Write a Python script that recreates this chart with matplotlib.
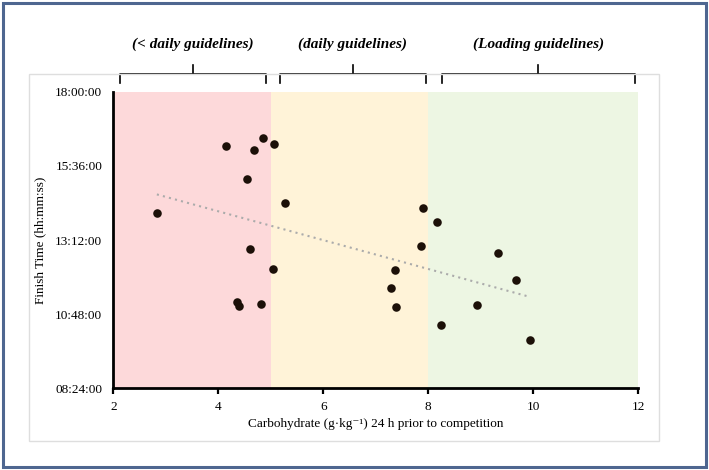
import numpy as np
import matplotlib.pyplot as plt
import matplotlib.transforms as mtransforms
from matplotlib.patches import Rectangle
from matplotlib.ticker import FuncFormatter

plt.rcParams['font.family'] = ['Liberation Serif', 'DejaVu Serif']

# carbohydrate intake (g/kg) 24 h before the race
carbs = [2.83, 4.15, 4.68, 4.86, 5.06, 4.54, 5.28, 4.60, 5.04, 4.36, 4.39, 4.81,
         7.90, 8.17, 7.86, 9.33, 7.36, 9.67, 7.30, 7.38, 8.93, 8.25, 9.94]
# finish times hh:mm
finish = ["14:05", "16:14", "16:07", "16:31", "16:19", "15:10", "14:24", "12:55",
          "12:15", "11:11", "11:04", "11:07", "14:14", "13:46", "13:01", "12:47",
          "12:14", "11:55", "11:38", "11:01", "11:05", "10:27", "09:57"]

band_edges = [2, 5, 8, 12]
band_colors = ['#fdd9da', '#fff3d8', '#edf6e3']
band_labels = ['(< daily guidelines)', '(daily guidelines)', '(Loading guidelines)']
bracket_x = [(2.13, 4.90), (5.18, 7.95), (8.26, 11.93)]

xticks = [2, 4, 6, 8, 10, 12]
yticks_h = [8.4, 10.8, 13.2, 15.6, 18.0]


def to_hours(s):
    h, m = s.split(':')
    return int(h) + int(m) / 60.0


def fmt_time(v, pos=None):
    total = int(round(v * 3600))
    h = total // 3600
    m = (total % 3600) // 60
    sec = total % 60
    return "%02d:%02d:%02d" % (h, m, sec)


x = np.array(carbs)
y = np.array([to_hours(s) for s in finish])

fig = plt.figure(figsize=(7.09, 4.70), dpi=100)
W, H = 709.0, 470.0

# outer frame and inner chart box
fig.patches.append(Rectangle((3 / W, 3 / H), 703 / W, 464 / H, transform=fig.transFigure,
                             fill=False, edgecolor='#4e6690', linewidth=2.2))
fig.patches.append(Rectangle((29 / W, 29 / H), 630 / W, 367 / H, transform=fig.transFigure,
                             fill=False, edgecolor='#dedede', linewidth=1.0))

ax = fig.add_axes([113.3 / W, 1 - 388.3 / H, 524.9 / W, 296.6 / H])
ax.set_facecolor('none')

for i in range(3):
    ax.axvspan(band_edges[i], band_edges[i + 1], color=band_colors[i], lw=0, zorder=0)

ax.scatter(x, y, s=38, color='#1c1008', zorder=3, linewidths=0)

k, b = np.polyfit(x, y, 1)
xs = np.array([x.min(), x.max()])
ax.plot(xs, k * xs + b, linestyle=(0, (1, 2)), color='#ababab', lw=1.5, zorder=2)

ax.set_xlim(2, 12)
ax.set_ylim(8.4, 18.0)
ax.set_xticks(xticks)
ax.set_yticks(yticks_h)
ax.yaxis.set_major_formatter(FuncFormatter(fmt_time))

for s in ['top', 'right']:
    ax.spines[s].set_visible(False)
for s in ['left', 'bottom']:
    ax.spines[s].set_linewidth(2.0)
    ax.spines[s].set_color('black')
ax.tick_params(axis='x', direction='out', length=4, width=1.6, labelsize=9.5, pad=5)
ax.tick_params(axis='y', length=0, labelsize=9.5, pad=8)

ax.set_xlabel('Carbohydrate (g\u00b7kg\u207b\u00b9) 24 h prior to competition', fontsize=9.5, labelpad=4)
ax.set_ylabel('Finish Time (hh:mm:ss)', fontsize=9.5, labelpad=6)

# guideline brackets above the plot
trans = mtransforms.blended_transform_factory(ax.transData, fig.transFigure)
y_line = 1 - 73.5 / H
y_end = 1 - 82.5 / H
y_peak = 1 - 64.5 / H
for (x0, x1), lab in zip(bracket_x, band_labels):
    xm = (x0 + x1) / 2
    ax.plot([x0, x0, x1, x1], [y_end, y_line, y_line, y_end], color='black', lw=1.2,
            transform=trans, clip_on=False, solid_joinstyle='round')
    ax.plot([xm, xm], [y_line, y_peak], color='black', lw=1.2, transform=trans, clip_on=False)
    ax.text(xm, 1 - 44 / H, lab, transform=trans, ha='center', va='center',
            fontsize=11, fontweight='bold', fontstyle='italic')

fig.savefig('out.png', dpi=100)
